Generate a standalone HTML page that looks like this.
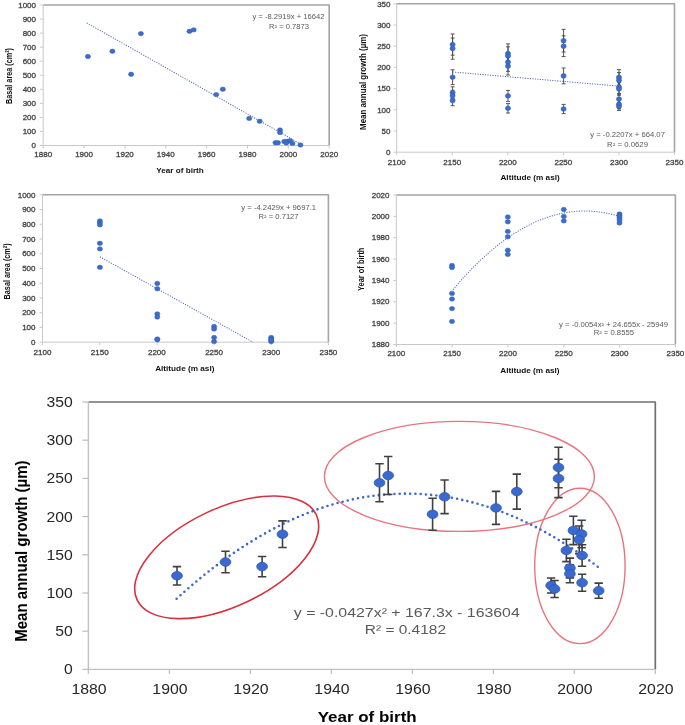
<!DOCTYPE html>
<html><head><meta charset="utf-8"><title>Tree growth charts</title>
<style>
html,body{margin:0;padding:0;background:#fff;}
body{width:685px;height:725px;overflow:hidden;}
svg{display:block;font-family:"Liberation Sans", sans-serif;filter:blur(0.4px);}
</style></head>
<body>
<svg width="685" height="725" viewBox="0 0 685 725">
<rect width="685" height="725" fill="#fff"/>
<path d="M43.20 5.00 H329.20 V145.50" fill="none" stroke="#a4a4a4" stroke-width="1.6" stroke-linejoin="round"/>
<path d="M43.20 5.00 V145.50 H329.20" fill="none" stroke="#c8c8c8" stroke-width="1.0"/>
<line x1="40.20" y1="145.50" x2="43.20" y2="145.50" stroke="#c8c8c8" stroke-width="1.0"/>
<line x1="40.20" y1="131.45" x2="43.20" y2="131.45" stroke="#c8c8c8" stroke-width="1.0"/>
<line x1="40.20" y1="117.40" x2="43.20" y2="117.40" stroke="#c8c8c8" stroke-width="1.0"/>
<line x1="40.20" y1="103.35" x2="43.20" y2="103.35" stroke="#c8c8c8" stroke-width="1.0"/>
<line x1="40.20" y1="89.30" x2="43.20" y2="89.30" stroke="#c8c8c8" stroke-width="1.0"/>
<line x1="40.20" y1="75.25" x2="43.20" y2="75.25" stroke="#c8c8c8" stroke-width="1.0"/>
<line x1="40.20" y1="61.20" x2="43.20" y2="61.20" stroke="#c8c8c8" stroke-width="1.0"/>
<line x1="40.20" y1="47.15" x2="43.20" y2="47.15" stroke="#c8c8c8" stroke-width="1.0"/>
<line x1="40.20" y1="33.10" x2="43.20" y2="33.10" stroke="#c8c8c8" stroke-width="1.0"/>
<line x1="40.20" y1="19.05" x2="43.20" y2="19.05" stroke="#c8c8c8" stroke-width="1.0"/>
<line x1="40.20" y1="5.00" x2="43.20" y2="5.00" stroke="#c8c8c8" stroke-width="1.0"/>
<line x1="43.20" y1="145.50" x2="43.20" y2="148.50" stroke="#c8c8c8" stroke-width="1.0"/>
<line x1="84.06" y1="145.50" x2="84.06" y2="148.50" stroke="#c8c8c8" stroke-width="1.0"/>
<line x1="124.91" y1="145.50" x2="124.91" y2="148.50" stroke="#c8c8c8" stroke-width="1.0"/>
<line x1="165.77" y1="145.50" x2="165.77" y2="148.50" stroke="#c8c8c8" stroke-width="1.0"/>
<line x1="206.63" y1="145.50" x2="206.63" y2="148.50" stroke="#c8c8c8" stroke-width="1.0"/>
<line x1="247.49" y1="145.50" x2="247.49" y2="148.50" stroke="#c8c8c8" stroke-width="1.0"/>
<line x1="288.34" y1="145.50" x2="288.34" y2="148.50" stroke="#c8c8c8" stroke-width="1.0"/>
<line x1="329.20" y1="145.50" x2="329.20" y2="148.50" stroke="#c8c8c8" stroke-width="1.0"/>
<text x="36.00" y="148.20" font-size="8" text-anchor="end" fill="#434343" stroke="#434343" stroke-width="0.3">0</text>
<text x="36.00" y="134.15" font-size="8" text-anchor="end" fill="#434343" stroke="#434343" stroke-width="0.3">100</text>
<text x="36.00" y="120.10" font-size="8" text-anchor="end" fill="#434343" stroke="#434343" stroke-width="0.3">200</text>
<text x="36.00" y="106.05" font-size="8" text-anchor="end" fill="#434343" stroke="#434343" stroke-width="0.3">300</text>
<text x="36.00" y="92.00" font-size="8" text-anchor="end" fill="#434343" stroke="#434343" stroke-width="0.3">400</text>
<text x="36.00" y="77.95" font-size="8" text-anchor="end" fill="#434343" stroke="#434343" stroke-width="0.3">500</text>
<text x="36.00" y="63.90" font-size="8" text-anchor="end" fill="#434343" stroke="#434343" stroke-width="0.3">600</text>
<text x="36.00" y="49.85" font-size="8" text-anchor="end" fill="#434343" stroke="#434343" stroke-width="0.3">700</text>
<text x="36.00" y="35.80" font-size="8" text-anchor="end" fill="#434343" stroke="#434343" stroke-width="0.3">800</text>
<text x="36.00" y="21.75" font-size="8" text-anchor="end" fill="#434343" stroke="#434343" stroke-width="0.3">900</text>
<text x="36.00" y="7.70" font-size="8" text-anchor="end" fill="#434343" stroke="#434343" stroke-width="0.3">1000</text>
<text x="43.20" y="157.30" font-size="8" text-anchor="middle" fill="#434343" stroke="#434343" stroke-width="0.3">1880</text>
<text x="84.06" y="157.30" font-size="8" text-anchor="middle" fill="#434343" stroke="#434343" stroke-width="0.3">1900</text>
<text x="124.91" y="157.30" font-size="8" text-anchor="middle" fill="#434343" stroke="#434343" stroke-width="0.3">1920</text>
<text x="165.77" y="157.30" font-size="8" text-anchor="middle" fill="#434343" stroke="#434343" stroke-width="0.3">1940</text>
<text x="206.63" y="157.30" font-size="8" text-anchor="middle" fill="#434343" stroke="#434343" stroke-width="0.3">1960</text>
<text x="247.49" y="157.30" font-size="8" text-anchor="middle" fill="#434343" stroke="#434343" stroke-width="0.3">1980</text>
<text x="288.34" y="157.30" font-size="8" text-anchor="middle" fill="#434343" stroke="#434343" stroke-width="0.3">2000</text>
<text x="329.20" y="157.30" font-size="8" text-anchor="middle" fill="#434343" stroke="#434343" stroke-width="0.3">2020</text>
<line x1="86.7" y1="22.9" x2="301.0" y2="144.3" stroke="#4d68ad" stroke-width="1.05" stroke-dasharray="1.1 1.4"/>
<ellipse cx="87.90" cy="56.50" rx="2.6" ry="2.2" fill="#3d6dcc" stroke="#2f5cb3" stroke-width="0.5"/>
<ellipse cx="112.40" cy="51.20" rx="2.6" ry="2.2" fill="#3d6dcc" stroke="#2f5cb3" stroke-width="0.5"/>
<ellipse cx="131.10" cy="74.30" rx="2.6" ry="2.2" fill="#3d6dcc" stroke="#2f5cb3" stroke-width="0.5"/>
<ellipse cx="140.90" cy="33.60" rx="2.6" ry="2.2" fill="#3d6dcc" stroke="#2f5cb3" stroke-width="0.5"/>
<ellipse cx="189.50" cy="31.30" rx="2.6" ry="2.2" fill="#3d6dcc" stroke="#2f5cb3" stroke-width="0.5"/>
<ellipse cx="193.70" cy="29.90" rx="2.6" ry="2.2" fill="#3d6dcc" stroke="#2f5cb3" stroke-width="0.5"/>
<ellipse cx="216.20" cy="94.60" rx="2.6" ry="2.2" fill="#3d6dcc" stroke="#2f5cb3" stroke-width="0.5"/>
<ellipse cx="222.80" cy="89.20" rx="2.6" ry="2.2" fill="#3d6dcc" stroke="#2f5cb3" stroke-width="0.5"/>
<ellipse cx="249.20" cy="118.40" rx="2.6" ry="2.2" fill="#3d6dcc" stroke="#2f5cb3" stroke-width="0.5"/>
<ellipse cx="259.70" cy="121.20" rx="2.6" ry="2.2" fill="#3d6dcc" stroke="#2f5cb3" stroke-width="0.5"/>
<ellipse cx="280.00" cy="130.00" rx="2.6" ry="2.2" fill="#3d6dcc" stroke="#2f5cb3" stroke-width="0.5"/>
<ellipse cx="280.00" cy="132.50" rx="2.6" ry="2.2" fill="#3d6dcc" stroke="#2f5cb3" stroke-width="0.5"/>
<ellipse cx="275.50" cy="142.70" rx="2.6" ry="2.2" fill="#3d6dcc" stroke="#2f5cb3" stroke-width="0.5"/>
<ellipse cx="278.00" cy="142.70" rx="2.6" ry="2.2" fill="#3d6dcc" stroke="#2f5cb3" stroke-width="0.5"/>
<ellipse cx="284.30" cy="141.50" rx="2.6" ry="2.2" fill="#3d6dcc" stroke="#2f5cb3" stroke-width="0.5"/>
<ellipse cx="287.60" cy="141.20" rx="2.6" ry="2.2" fill="#3d6dcc" stroke="#2f5cb3" stroke-width="0.5"/>
<ellipse cx="290.20" cy="140.80" rx="2.6" ry="2.2" fill="#3d6dcc" stroke="#2f5cb3" stroke-width="0.5"/>
<ellipse cx="292.40" cy="143.40" rx="2.6" ry="2.2" fill="#3d6dcc" stroke="#2f5cb3" stroke-width="0.5"/>
<ellipse cx="286.20" cy="143.00" rx="2.6" ry="2.2" fill="#3d6dcc" stroke="#2f5cb3" stroke-width="0.5"/>
<ellipse cx="300.40" cy="145.00" rx="2.6" ry="2.2" fill="#3d6dcc" stroke="#2f5cb3" stroke-width="0.5"/>
<text x="288.40" y="19.30" font-size="7" text-anchor="middle" fill="#595959" textLength="72.00" lengthAdjust="spacingAndGlyphs">y = -8.2919x + 16642</text>
<text x="289.00" y="28.50" font-size="7" text-anchor="middle" fill="#595959" textLength="40.00" lengthAdjust="spacingAndGlyphs">R² = 0.7873</text>
<text x="180.00" y="172.70" font-size="7.8" text-anchor="middle" fill="#111" font-weight="bold" textLength="47.50" lengthAdjust="spacingAndGlyphs">Year of birth</text>
<text x="0" y="0" font-size="8" text-anchor="middle" fill="#111" font-weight="bold" textLength="56.00" lengthAdjust="spacingAndGlyphs" transform="translate(12.10 76.00) scale(1.15 1) rotate(-90)">Basal area (cm²)</text>
<path d="M396.70 3.80 H674.50 V152.20" fill="none" stroke="#a4a4a4" stroke-width="1.6" stroke-linejoin="round"/>
<path d="M396.70 3.80 V152.20 H674.50" fill="none" stroke="#c8c8c8" stroke-width="1.0"/>
<line x1="393.70" y1="152.20" x2="396.70" y2="152.20" stroke="#c8c8c8" stroke-width="1.0"/>
<line x1="393.70" y1="131.00" x2="396.70" y2="131.00" stroke="#c8c8c8" stroke-width="1.0"/>
<line x1="393.70" y1="109.80" x2="396.70" y2="109.80" stroke="#c8c8c8" stroke-width="1.0"/>
<line x1="393.70" y1="88.60" x2="396.70" y2="88.60" stroke="#c8c8c8" stroke-width="1.0"/>
<line x1="393.70" y1="67.40" x2="396.70" y2="67.40" stroke="#c8c8c8" stroke-width="1.0"/>
<line x1="393.70" y1="46.20" x2="396.70" y2="46.20" stroke="#c8c8c8" stroke-width="1.0"/>
<line x1="393.70" y1="25.00" x2="396.70" y2="25.00" stroke="#c8c8c8" stroke-width="1.0"/>
<line x1="393.70" y1="3.80" x2="396.70" y2="3.80" stroke="#c8c8c8" stroke-width="1.0"/>
<line x1="396.70" y1="152.20" x2="396.70" y2="155.20" stroke="#c8c8c8" stroke-width="1.0"/>
<line x1="452.26" y1="152.20" x2="452.26" y2="155.20" stroke="#c8c8c8" stroke-width="1.0"/>
<line x1="507.82" y1="152.20" x2="507.82" y2="155.20" stroke="#c8c8c8" stroke-width="1.0"/>
<line x1="563.38" y1="152.20" x2="563.38" y2="155.20" stroke="#c8c8c8" stroke-width="1.0"/>
<line x1="618.94" y1="152.20" x2="618.94" y2="155.20" stroke="#c8c8c8" stroke-width="1.0"/>
<line x1="674.50" y1="152.20" x2="674.50" y2="155.20" stroke="#c8c8c8" stroke-width="1.0"/>
<text x="390.50" y="154.90" font-size="8" text-anchor="end" fill="#434343" stroke="#434343" stroke-width="0.3">0</text>
<text x="390.50" y="133.70" font-size="8" text-anchor="end" fill="#434343" stroke="#434343" stroke-width="0.3">50</text>
<text x="390.50" y="112.50" font-size="8" text-anchor="end" fill="#434343" stroke="#434343" stroke-width="0.3">100</text>
<text x="390.50" y="91.30" font-size="8" text-anchor="end" fill="#434343" stroke="#434343" stroke-width="0.3">150</text>
<text x="390.50" y="70.10" font-size="8" text-anchor="end" fill="#434343" stroke="#434343" stroke-width="0.3">200</text>
<text x="390.50" y="48.90" font-size="8" text-anchor="end" fill="#434343" stroke="#434343" stroke-width="0.3">250</text>
<text x="390.50" y="27.70" font-size="8" text-anchor="end" fill="#434343" stroke="#434343" stroke-width="0.3">300</text>
<text x="390.50" y="6.50" font-size="8" text-anchor="end" fill="#434343" stroke="#434343" stroke-width="0.3">350</text>
<text x="396.70" y="164.60" font-size="8" text-anchor="middle" fill="#434343" stroke="#434343" stroke-width="0.3">2100</text>
<text x="452.26" y="164.60" font-size="8" text-anchor="middle" fill="#434343" stroke="#434343" stroke-width="0.3">2150</text>
<text x="507.82" y="164.60" font-size="8" text-anchor="middle" fill="#434343" stroke="#434343" stroke-width="0.3">2200</text>
<text x="563.38" y="164.60" font-size="8" text-anchor="middle" fill="#434343" stroke="#434343" stroke-width="0.3">2250</text>
<text x="618.94" y="164.60" font-size="8" text-anchor="middle" fill="#434343" stroke="#434343" stroke-width="0.3">2300</text>
<text x="674.50" y="164.60" font-size="8" text-anchor="middle" fill="#434343" stroke="#434343" stroke-width="0.3">2350</text>
<line x1="452.6" y1="72.0" x2="619.0" y2="86.1" stroke="#4d68ad" stroke-width="1.05" stroke-dasharray="1.1 1.4"/>
<path d="M452.60 34.00 V55.20 M450.60 34.00 H454.60 M450.60 55.20 H454.60" stroke="#444" stroke-width="0.9" fill="none"/>
<path d="M452.60 38.00 V59.20 M450.60 38.00 H454.60 M450.60 59.20 H454.60" stroke="#444" stroke-width="0.9" fill="none"/>
<path d="M452.60 69.80 V84.60 M450.60 69.80 H454.60 M450.60 84.60 H454.60" stroke="#444" stroke-width="0.9" fill="none"/>
<path d="M452.60 86.80 V98.60 M450.60 86.80 H454.60 M450.60 98.60 H454.60" stroke="#444" stroke-width="0.9" fill="none"/>
<path d="M452.60 90.30 V101.30 M450.60 90.30 H454.60 M450.60 101.30 H454.60" stroke="#444" stroke-width="0.9" fill="none"/>
<path d="M452.60 95.50 V105.70 M450.60 95.50 H454.60 M450.60 105.70 H454.60" stroke="#444" stroke-width="0.9" fill="none"/>
<path d="M508.00 43.90 V63.30 M506.00 43.90 H510.00 M506.00 63.30 H510.00" stroke="#444" stroke-width="0.9" fill="none"/>
<path d="M508.00 46.80 V65.40 M506.00 46.80 H510.00 M506.00 65.40 H510.00" stroke="#444" stroke-width="0.9" fill="none"/>
<path d="M508.00 52.90 V71.30 M506.00 52.90 H510.00 M506.00 71.30 H510.00" stroke="#444" stroke-width="0.9" fill="none"/>
<path d="M508.00 57.20 V75.00 M506.00 57.20 H510.00 M506.00 75.00 H510.00" stroke="#444" stroke-width="0.9" fill="none"/>
<path d="M508.00 90.40 V101.40 M506.00 90.40 H510.00 M506.00 101.40 H510.00" stroke="#444" stroke-width="0.9" fill="none"/>
<path d="M508.00 103.60 V113.00 M506.00 103.60 H510.00 M506.00 113.00 H510.00" stroke="#444" stroke-width="0.9" fill="none"/>
<path d="M563.60 29.40 V52.00 M561.60 29.40 H565.60 M561.60 52.00 H565.60" stroke="#444" stroke-width="0.9" fill="none"/>
<path d="M563.60 35.80 V56.60 M561.60 35.80 H565.60 M561.60 56.60 H565.60" stroke="#444" stroke-width="0.9" fill="none"/>
<path d="M563.60 68.00 V83.80 M561.60 68.00 H565.60 M561.60 83.80 H565.60" stroke="#444" stroke-width="0.9" fill="none"/>
<path d="M563.60 104.40 V113.60 M561.60 104.40 H565.60 M561.60 113.60 H565.60" stroke="#444" stroke-width="0.9" fill="none"/>
<path d="M619.00 69.70 V85.10 M617.00 69.70 H621.00 M617.00 85.10 H621.00" stroke="#444" stroke-width="0.9" fill="none"/>
<path d="M619.00 72.60 V88.00 M617.00 72.60 H621.00 M617.00 88.00 H621.00" stroke="#444" stroke-width="0.9" fill="none"/>
<path d="M619.00 80.60 V93.60 M617.00 80.60 H621.00 M617.00 93.60 H621.00" stroke="#444" stroke-width="0.9" fill="none"/>
<path d="M619.00 82.70 V95.30 M617.00 82.70 H621.00 M617.00 95.30 H621.00" stroke="#444" stroke-width="0.9" fill="none"/>
<path d="M619.00 94.10 V104.10 M617.00 94.10 H621.00 M617.00 104.10 H621.00" stroke="#444" stroke-width="0.9" fill="none"/>
<path d="M619.00 99.90 V108.90 M617.00 99.90 H621.00 M617.00 108.90 H621.00" stroke="#444" stroke-width="0.9" fill="none"/>
<path d="M619.00 102.40 V110.40 M617.00 102.40 H621.00 M617.00 110.40 H621.00" stroke="#444" stroke-width="0.9" fill="none"/>
<ellipse cx="452.60" cy="44.60" rx="2.6" ry="2.3" fill="#3d6dcc" stroke="#2f5cb3" stroke-width="0.5"/>
<ellipse cx="452.60" cy="48.60" rx="2.6" ry="2.3" fill="#3d6dcc" stroke="#2f5cb3" stroke-width="0.5"/>
<ellipse cx="452.60" cy="77.20" rx="2.6" ry="2.3" fill="#3d6dcc" stroke="#2f5cb3" stroke-width="0.5"/>
<ellipse cx="452.60" cy="92.70" rx="2.6" ry="2.3" fill="#3d6dcc" stroke="#2f5cb3" stroke-width="0.5"/>
<ellipse cx="452.60" cy="95.80" rx="2.6" ry="2.3" fill="#3d6dcc" stroke="#2f5cb3" stroke-width="0.5"/>
<ellipse cx="452.60" cy="100.60" rx="2.6" ry="2.3" fill="#3d6dcc" stroke="#2f5cb3" stroke-width="0.5"/>
<ellipse cx="508.00" cy="53.60" rx="2.6" ry="2.3" fill="#3d6dcc" stroke="#2f5cb3" stroke-width="0.5"/>
<ellipse cx="508.00" cy="56.10" rx="2.6" ry="2.3" fill="#3d6dcc" stroke="#2f5cb3" stroke-width="0.5"/>
<ellipse cx="508.00" cy="62.10" rx="2.6" ry="2.3" fill="#3d6dcc" stroke="#2f5cb3" stroke-width="0.5"/>
<ellipse cx="508.00" cy="66.10" rx="2.6" ry="2.3" fill="#3d6dcc" stroke="#2f5cb3" stroke-width="0.5"/>
<ellipse cx="508.00" cy="95.90" rx="2.6" ry="2.3" fill="#3d6dcc" stroke="#2f5cb3" stroke-width="0.5"/>
<ellipse cx="508.00" cy="108.30" rx="2.6" ry="2.3" fill="#3d6dcc" stroke="#2f5cb3" stroke-width="0.5"/>
<ellipse cx="563.60" cy="40.70" rx="2.6" ry="2.3" fill="#3d6dcc" stroke="#2f5cb3" stroke-width="0.5"/>
<ellipse cx="563.60" cy="46.20" rx="2.6" ry="2.3" fill="#3d6dcc" stroke="#2f5cb3" stroke-width="0.5"/>
<ellipse cx="563.60" cy="75.90" rx="2.6" ry="2.3" fill="#3d6dcc" stroke="#2f5cb3" stroke-width="0.5"/>
<ellipse cx="563.60" cy="109.00" rx="2.6" ry="2.3" fill="#3d6dcc" stroke="#2f5cb3" stroke-width="0.5"/>
<ellipse cx="619.00" cy="77.40" rx="2.6" ry="2.3" fill="#3d6dcc" stroke="#2f5cb3" stroke-width="0.5"/>
<ellipse cx="619.00" cy="80.30" rx="2.6" ry="2.3" fill="#3d6dcc" stroke="#2f5cb3" stroke-width="0.5"/>
<ellipse cx="619.00" cy="87.10" rx="2.6" ry="2.3" fill="#3d6dcc" stroke="#2f5cb3" stroke-width="0.5"/>
<ellipse cx="619.00" cy="89.00" rx="2.6" ry="2.3" fill="#3d6dcc" stroke="#2f5cb3" stroke-width="0.5"/>
<ellipse cx="619.00" cy="99.10" rx="2.6" ry="2.3" fill="#3d6dcc" stroke="#2f5cb3" stroke-width="0.5"/>
<ellipse cx="619.00" cy="104.40" rx="2.6" ry="2.3" fill="#3d6dcc" stroke="#2f5cb3" stroke-width="0.5"/>
<ellipse cx="619.00" cy="106.40" rx="2.6" ry="2.3" fill="#3d6dcc" stroke="#2f5cb3" stroke-width="0.5"/>
<text x="627.60" y="137.40" font-size="7" text-anchor="middle" fill="#595959" textLength="74.60" lengthAdjust="spacingAndGlyphs">y = -0.2207x + 664.07</text>
<text x="627.50" y="146.50" font-size="7" text-anchor="middle" fill="#595959" textLength="41.00" lengthAdjust="spacingAndGlyphs">R² = 0.0629</text>
<text x="530.10" y="180.40" font-size="8" text-anchor="middle" fill="#111" font-weight="bold" textLength="59.30" lengthAdjust="spacingAndGlyphs">Altitude (m asl)</text>
<text x="0" y="0" font-size="8" text-anchor="middle" fill="#111" font-weight="bold" textLength="96.00" lengthAdjust="spacingAndGlyphs" transform="translate(366.30 82.00) scale(1.15 1) rotate(-90)">Mean annual growth (µm)</text>
<path d="M42.50 194.80 H328.40 V342.20" fill="none" stroke="#a4a4a4" stroke-width="1.6" stroke-linejoin="round"/>
<path d="M42.50 194.80 V342.20 H328.40" fill="none" stroke="#c8c8c8" stroke-width="1.0"/>
<line x1="39.50" y1="342.20" x2="42.50" y2="342.20" stroke="#c8c8c8" stroke-width="1.0"/>
<line x1="39.50" y1="327.46" x2="42.50" y2="327.46" stroke="#c8c8c8" stroke-width="1.0"/>
<line x1="39.50" y1="312.72" x2="42.50" y2="312.72" stroke="#c8c8c8" stroke-width="1.0"/>
<line x1="39.50" y1="297.98" x2="42.50" y2="297.98" stroke="#c8c8c8" stroke-width="1.0"/>
<line x1="39.50" y1="283.24" x2="42.50" y2="283.24" stroke="#c8c8c8" stroke-width="1.0"/>
<line x1="39.50" y1="268.50" x2="42.50" y2="268.50" stroke="#c8c8c8" stroke-width="1.0"/>
<line x1="39.50" y1="253.76" x2="42.50" y2="253.76" stroke="#c8c8c8" stroke-width="1.0"/>
<line x1="39.50" y1="239.02" x2="42.50" y2="239.02" stroke="#c8c8c8" stroke-width="1.0"/>
<line x1="39.50" y1="224.28" x2="42.50" y2="224.28" stroke="#c8c8c8" stroke-width="1.0"/>
<line x1="39.50" y1="209.54" x2="42.50" y2="209.54" stroke="#c8c8c8" stroke-width="1.0"/>
<line x1="39.50" y1="194.80" x2="42.50" y2="194.80" stroke="#c8c8c8" stroke-width="1.0"/>
<line x1="42.50" y1="342.20" x2="42.50" y2="345.20" stroke="#c8c8c8" stroke-width="1.0"/>
<line x1="99.68" y1="342.20" x2="99.68" y2="345.20" stroke="#c8c8c8" stroke-width="1.0"/>
<line x1="156.86" y1="342.20" x2="156.86" y2="345.20" stroke="#c8c8c8" stroke-width="1.0"/>
<line x1="214.04" y1="342.20" x2="214.04" y2="345.20" stroke="#c8c8c8" stroke-width="1.0"/>
<line x1="271.22" y1="342.20" x2="271.22" y2="345.20" stroke="#c8c8c8" stroke-width="1.0"/>
<line x1="328.40" y1="342.20" x2="328.40" y2="345.20" stroke="#c8c8c8" stroke-width="1.0"/>
<text x="35.50" y="344.90" font-size="8" text-anchor="end" fill="#434343" stroke="#434343" stroke-width="0.3">0</text>
<text x="35.50" y="330.16" font-size="8" text-anchor="end" fill="#434343" stroke="#434343" stroke-width="0.3">100</text>
<text x="35.50" y="315.42" font-size="8" text-anchor="end" fill="#434343" stroke="#434343" stroke-width="0.3">200</text>
<text x="35.50" y="300.68" font-size="8" text-anchor="end" fill="#434343" stroke="#434343" stroke-width="0.3">300</text>
<text x="35.50" y="285.94" font-size="8" text-anchor="end" fill="#434343" stroke="#434343" stroke-width="0.3">400</text>
<text x="35.50" y="271.20" font-size="8" text-anchor="end" fill="#434343" stroke="#434343" stroke-width="0.3">500</text>
<text x="35.50" y="256.46" font-size="8" text-anchor="end" fill="#434343" stroke="#434343" stroke-width="0.3">600</text>
<text x="35.50" y="241.72" font-size="8" text-anchor="end" fill="#434343" stroke="#434343" stroke-width="0.3">700</text>
<text x="35.50" y="226.98" font-size="8" text-anchor="end" fill="#434343" stroke="#434343" stroke-width="0.3">800</text>
<text x="35.50" y="212.24" font-size="8" text-anchor="end" fill="#434343" stroke="#434343" stroke-width="0.3">900</text>
<text x="35.50" y="197.50" font-size="8" text-anchor="end" fill="#434343" stroke="#434343" stroke-width="0.3">1000</text>
<text x="42.50" y="354.80" font-size="8" text-anchor="middle" fill="#434343" stroke="#434343" stroke-width="0.3">2100</text>
<text x="99.68" y="354.80" font-size="8" text-anchor="middle" fill="#434343" stroke="#434343" stroke-width="0.3">2150</text>
<text x="156.86" y="354.80" font-size="8" text-anchor="middle" fill="#434343" stroke="#434343" stroke-width="0.3">2200</text>
<text x="214.04" y="354.80" font-size="8" text-anchor="middle" fill="#434343" stroke="#434343" stroke-width="0.3">2250</text>
<text x="271.22" y="354.80" font-size="8" text-anchor="middle" fill="#434343" stroke="#434343" stroke-width="0.3">2300</text>
<text x="328.40" y="354.80" font-size="8" text-anchor="middle" fill="#434343" stroke="#434343" stroke-width="0.3">2350</text>
<line x1="99.9" y1="256.8" x2="253.0" y2="342.2" stroke="#4d68ad" stroke-width="1.05" stroke-dasharray="1.1 1.4"/>
<ellipse cx="99.90" cy="220.90" rx="2.6" ry="2.2" fill="#3d6dcc" stroke="#2f5cb3" stroke-width="0.5"/>
<ellipse cx="99.90" cy="222.70" rx="2.6" ry="2.2" fill="#3d6dcc" stroke="#2f5cb3" stroke-width="0.5"/>
<ellipse cx="99.90" cy="224.90" rx="2.6" ry="2.2" fill="#3d6dcc" stroke="#2f5cb3" stroke-width="0.5"/>
<ellipse cx="99.90" cy="243.30" rx="2.6" ry="2.2" fill="#3d6dcc" stroke="#2f5cb3" stroke-width="0.5"/>
<ellipse cx="99.90" cy="248.90" rx="2.6" ry="2.2" fill="#3d6dcc" stroke="#2f5cb3" stroke-width="0.5"/>
<ellipse cx="99.90" cy="267.30" rx="2.6" ry="2.2" fill="#3d6dcc" stroke="#2f5cb3" stroke-width="0.5"/>
<ellipse cx="157.30" cy="283.50" rx="2.6" ry="2.2" fill="#3d6dcc" stroke="#2f5cb3" stroke-width="0.5"/>
<ellipse cx="157.30" cy="288.80" rx="2.6" ry="2.2" fill="#3d6dcc" stroke="#2f5cb3" stroke-width="0.5"/>
<ellipse cx="157.30" cy="313.90" rx="2.6" ry="2.2" fill="#3d6dcc" stroke="#2f5cb3" stroke-width="0.5"/>
<ellipse cx="157.30" cy="317.10" rx="2.6" ry="2.2" fill="#3d6dcc" stroke="#2f5cb3" stroke-width="0.5"/>
<ellipse cx="157.30" cy="339.70" rx="2.6" ry="2.2" fill="#3d6dcc" stroke="#2f5cb3" stroke-width="0.5"/>
<ellipse cx="157.30" cy="339.00" rx="2.6" ry="2.2" fill="#3d6dcc" stroke="#2f5cb3" stroke-width="0.5"/>
<ellipse cx="214.10" cy="326.50" rx="2.6" ry="2.2" fill="#3d6dcc" stroke="#2f5cb3" stroke-width="0.5"/>
<ellipse cx="214.10" cy="329.00" rx="2.6" ry="2.2" fill="#3d6dcc" stroke="#2f5cb3" stroke-width="0.5"/>
<ellipse cx="214.10" cy="337.50" rx="2.6" ry="2.2" fill="#3d6dcc" stroke="#2f5cb3" stroke-width="0.5"/>
<ellipse cx="214.10" cy="341.60" rx="2.6" ry="2.2" fill="#3d6dcc" stroke="#2f5cb3" stroke-width="0.5"/>
<ellipse cx="271.20" cy="337.50" rx="2.6" ry="2.2" fill="#3d6dcc" stroke="#2f5cb3" stroke-width="0.5"/>
<ellipse cx="271.20" cy="339.00" rx="2.6" ry="2.2" fill="#3d6dcc" stroke="#2f5cb3" stroke-width="0.5"/>
<ellipse cx="271.20" cy="341.60" rx="2.6" ry="2.2" fill="#3d6dcc" stroke="#2f5cb3" stroke-width="0.5"/>
<ellipse cx="271.20" cy="340.50" rx="2.6" ry="2.2" fill="#3d6dcc" stroke="#2f5cb3" stroke-width="0.5"/>
<text x="278.70" y="210.30" font-size="7" text-anchor="middle" fill="#595959" textLength="74.80" lengthAdjust="spacingAndGlyphs">y = -4.2429x + 9697.1</text>
<text x="278.60" y="219.40" font-size="7" text-anchor="middle" fill="#595959" textLength="40.00" lengthAdjust="spacingAndGlyphs">R² = 0.7127</text>
<text x="184.80" y="370.80" font-size="8" text-anchor="middle" fill="#111" font-weight="bold" textLength="59.30" lengthAdjust="spacingAndGlyphs">Altitude (m asl)</text>
<text x="0" y="0" font-size="8" text-anchor="middle" fill="#111" font-weight="bold" textLength="56.00" lengthAdjust="spacingAndGlyphs" transform="translate(10.30 271.40) scale(1.15 1) rotate(-90)">Basal area (cm²)</text>
<path d="M396.30 195.00 H675.40 V344.50" fill="none" stroke="#a4a4a4" stroke-width="1.6" stroke-linejoin="round"/>
<path d="M396.30 195.00 V344.50 H675.40" fill="none" stroke="#c8c8c8" stroke-width="1.0"/>
<line x1="393.30" y1="344.50" x2="396.30" y2="344.50" stroke="#c8c8c8" stroke-width="1.0"/>
<line x1="393.30" y1="323.14" x2="396.30" y2="323.14" stroke="#c8c8c8" stroke-width="1.0"/>
<line x1="393.30" y1="301.79" x2="396.30" y2="301.79" stroke="#c8c8c8" stroke-width="1.0"/>
<line x1="393.30" y1="280.43" x2="396.30" y2="280.43" stroke="#c8c8c8" stroke-width="1.0"/>
<line x1="393.30" y1="259.07" x2="396.30" y2="259.07" stroke="#c8c8c8" stroke-width="1.0"/>
<line x1="393.30" y1="237.71" x2="396.30" y2="237.71" stroke="#c8c8c8" stroke-width="1.0"/>
<line x1="393.30" y1="216.36" x2="396.30" y2="216.36" stroke="#c8c8c8" stroke-width="1.0"/>
<line x1="393.30" y1="195.00" x2="396.30" y2="195.00" stroke="#c8c8c8" stroke-width="1.0"/>
<line x1="396.30" y1="344.50" x2="396.30" y2="347.50" stroke="#c8c8c8" stroke-width="1.0"/>
<line x1="452.12" y1="344.50" x2="452.12" y2="347.50" stroke="#c8c8c8" stroke-width="1.0"/>
<line x1="507.94" y1="344.50" x2="507.94" y2="347.50" stroke="#c8c8c8" stroke-width="1.0"/>
<line x1="563.76" y1="344.50" x2="563.76" y2="347.50" stroke="#c8c8c8" stroke-width="1.0"/>
<line x1="619.58" y1="344.50" x2="619.58" y2="347.50" stroke="#c8c8c8" stroke-width="1.0"/>
<line x1="675.40" y1="344.50" x2="675.40" y2="347.50" stroke="#c8c8c8" stroke-width="1.0"/>
<text x="389.50" y="347.20" font-size="8" text-anchor="end" fill="#434343" stroke="#434343" stroke-width="0.3">1880</text>
<text x="389.50" y="325.84" font-size="8" text-anchor="end" fill="#434343" stroke="#434343" stroke-width="0.3">1900</text>
<text x="389.50" y="304.49" font-size="8" text-anchor="end" fill="#434343" stroke="#434343" stroke-width="0.3">1920</text>
<text x="389.50" y="283.13" font-size="8" text-anchor="end" fill="#434343" stroke="#434343" stroke-width="0.3">1940</text>
<text x="389.50" y="261.77" font-size="8" text-anchor="end" fill="#434343" stroke="#434343" stroke-width="0.3">1960</text>
<text x="389.50" y="240.41" font-size="8" text-anchor="end" fill="#434343" stroke="#434343" stroke-width="0.3">1980</text>
<text x="389.50" y="219.06" font-size="8" text-anchor="end" fill="#434343" stroke="#434343" stroke-width="0.3">2000</text>
<text x="389.50" y="197.70" font-size="8" text-anchor="end" fill="#434343" stroke="#434343" stroke-width="0.3">2020</text>
<text x="396.30" y="356.20" font-size="8" text-anchor="middle" fill="#434343" stroke="#434343" stroke-width="0.3">2100</text>
<text x="452.12" y="356.20" font-size="8" text-anchor="middle" fill="#434343" stroke="#434343" stroke-width="0.3">2150</text>
<text x="507.94" y="356.20" font-size="8" text-anchor="middle" fill="#434343" stroke="#434343" stroke-width="0.3">2200</text>
<text x="563.76" y="356.20" font-size="8" text-anchor="middle" fill="#434343" stroke="#434343" stroke-width="0.3">2250</text>
<text x="619.58" y="356.20" font-size="8" text-anchor="middle" fill="#434343" stroke="#434343" stroke-width="0.3">2300</text>
<text x="675.40" y="356.20" font-size="8" text-anchor="middle" fill="#434343" stroke="#434343" stroke-width="0.3">2350</text>
<path d="M453.00 289.69 L455.00 287.32 L457.00 284.99 L459.00 282.69 L461.00 280.43 L463.00 278.20 L465.00 276.01 L467.00 273.86 L469.00 271.75 L471.00 269.67 L473.00 267.62 L475.00 265.61 L477.00 263.64 L479.00 261.71 L481.00 259.81 L483.00 257.95 L485.00 256.12 L487.00 254.33 L489.00 252.57 L491.00 250.86 L493.00 249.18 L495.00 247.53 L497.00 245.92 L499.00 244.35 L501.00 242.81 L503.00 241.31 L505.00 239.85 L507.00 238.42 L509.00 237.03 L511.00 235.67 L513.00 234.35 L515.00 233.07 L517.00 231.82 L519.00 230.61 L521.00 229.44 L523.00 228.30 L525.00 227.20 L527.00 226.13 L529.00 225.10 L531.00 224.11 L533.00 223.16 L535.00 222.23 L537.00 221.35 L539.00 220.50 L541.00 219.69 L543.00 218.91 L545.00 218.18 L547.00 217.47 L549.00 216.81 L551.00 216.18 L553.00 215.58 L555.00 215.02 L557.00 214.50 L559.00 214.02 L561.00 213.57 L563.00 213.15 L565.00 212.78 L567.00 212.44 L569.00 212.13 L571.00 211.86 L573.00 211.63 L575.00 211.44 L577.00 211.28 L579.00 211.15 L581.00 211.07 L583.00 211.01 L585.00 211.00 L587.00 211.02 L589.00 211.08 L591.00 211.17 L593.00 211.30 L595.00 211.47 L597.00 211.67 L599.00 211.91 L601.00 212.19 L603.00 212.50 L605.00 212.85 L607.00 213.23 L609.00 213.65 L611.00 214.11 L613.00 214.60 L615.00 215.13 L617.00 215.70 L619.00 216.30" fill="none" stroke="#4d68ad" stroke-width="1.05" stroke-dasharray="1.1 1.4"/>
<ellipse cx="452.00" cy="265.50" rx="2.6" ry="2.2" fill="#3d6dcc" stroke="#2f5cb3" stroke-width="0.5"/>
<ellipse cx="452.00" cy="267.60" rx="2.6" ry="2.2" fill="#3d6dcc" stroke="#2f5cb3" stroke-width="0.5"/>
<ellipse cx="452.00" cy="293.40" rx="2.6" ry="2.2" fill="#3d6dcc" stroke="#2f5cb3" stroke-width="0.5"/>
<ellipse cx="452.00" cy="299.00" rx="2.6" ry="2.2" fill="#3d6dcc" stroke="#2f5cb3" stroke-width="0.5"/>
<ellipse cx="452.00" cy="308.60" rx="2.6" ry="2.2" fill="#3d6dcc" stroke="#2f5cb3" stroke-width="0.5"/>
<ellipse cx="452.00" cy="321.40" rx="2.6" ry="2.2" fill="#3d6dcc" stroke="#2f5cb3" stroke-width="0.5"/>
<ellipse cx="507.80" cy="217.00" rx="2.6" ry="2.2" fill="#3d6dcc" stroke="#2f5cb3" stroke-width="0.5"/>
<ellipse cx="507.80" cy="221.80" rx="2.6" ry="2.2" fill="#3d6dcc" stroke="#2f5cb3" stroke-width="0.5"/>
<ellipse cx="507.80" cy="231.40" rx="2.6" ry="2.2" fill="#3d6dcc" stroke="#2f5cb3" stroke-width="0.5"/>
<ellipse cx="507.80" cy="236.80" rx="2.6" ry="2.2" fill="#3d6dcc" stroke="#2f5cb3" stroke-width="0.5"/>
<ellipse cx="507.80" cy="250.20" rx="2.6" ry="2.2" fill="#3d6dcc" stroke="#2f5cb3" stroke-width="0.5"/>
<ellipse cx="507.80" cy="254.40" rx="2.6" ry="2.2" fill="#3d6dcc" stroke="#2f5cb3" stroke-width="0.5"/>
<ellipse cx="563.80" cy="209.50" rx="2.6" ry="2.2" fill="#3d6dcc" stroke="#2f5cb3" stroke-width="0.5"/>
<ellipse cx="563.80" cy="216.40" rx="2.6" ry="2.2" fill="#3d6dcc" stroke="#2f5cb3" stroke-width="0.5"/>
<ellipse cx="563.80" cy="220.90" rx="2.6" ry="2.2" fill="#3d6dcc" stroke="#2f5cb3" stroke-width="0.5"/>
<ellipse cx="619.50" cy="214.00" rx="2.6" ry="2.2" fill="#3d6dcc" stroke="#2f5cb3" stroke-width="0.5"/>
<ellipse cx="619.50" cy="215.80" rx="2.6" ry="2.2" fill="#3d6dcc" stroke="#2f5cb3" stroke-width="0.5"/>
<ellipse cx="619.50" cy="217.90" rx="2.6" ry="2.2" fill="#3d6dcc" stroke="#2f5cb3" stroke-width="0.5"/>
<ellipse cx="619.50" cy="220.00" rx="2.6" ry="2.2" fill="#3d6dcc" stroke="#2f5cb3" stroke-width="0.5"/>
<ellipse cx="619.50" cy="223.00" rx="2.6" ry="2.2" fill="#3d6dcc" stroke="#2f5cb3" stroke-width="0.5"/>
<text x="613.60" y="326.60" font-size="7" text-anchor="middle" fill="#595959" textLength="109.00" lengthAdjust="spacingAndGlyphs">y = -0.0054x² + 24.655x - 25949</text>
<text x="613.80" y="335.30" font-size="7" text-anchor="middle" fill="#595959" textLength="40.30" lengthAdjust="spacingAndGlyphs">R² = 0.8555</text>
<text x="529.90" y="372.80" font-size="8" text-anchor="middle" fill="#111" font-weight="bold" textLength="59.30" lengthAdjust="spacingAndGlyphs">Altitude (m asl)</text>
<text x="0" y="0" font-size="8" text-anchor="middle" fill="#111" font-weight="bold" textLength="43.40" lengthAdjust="spacingAndGlyphs" transform="translate(364.00 269.30) scale(1.15 1) rotate(-90)">Year of birth</text>
<path d="M88.40 402.00 H655.30 V669.40" fill="none" stroke="#707070" stroke-width="1.7" stroke-linejoin="round"/>
<path d="M88.40 402.00 V669.40 H655.30" fill="none" stroke="#c0c0c0" stroke-width="1.4"/>
<line x1="82.40" y1="669.40" x2="88.40" y2="669.40" stroke="#c0c0c0" stroke-width="1.3"/>
<line x1="82.40" y1="631.20" x2="88.40" y2="631.20" stroke="#c0c0c0" stroke-width="1.3"/>
<line x1="82.40" y1="593.00" x2="88.40" y2="593.00" stroke="#c0c0c0" stroke-width="1.3"/>
<line x1="82.40" y1="554.80" x2="88.40" y2="554.80" stroke="#c0c0c0" stroke-width="1.3"/>
<line x1="82.40" y1="516.60" x2="88.40" y2="516.60" stroke="#c0c0c0" stroke-width="1.3"/>
<line x1="82.40" y1="478.40" x2="88.40" y2="478.40" stroke="#c0c0c0" stroke-width="1.3"/>
<line x1="82.40" y1="440.20" x2="88.40" y2="440.20" stroke="#c0c0c0" stroke-width="1.3"/>
<line x1="82.40" y1="402.00" x2="88.40" y2="402.00" stroke="#c0c0c0" stroke-width="1.3"/>
<line x1="88.40" y1="669.40" x2="88.40" y2="673.90" stroke="#c0c0c0" stroke-width="1.3"/>
<line x1="169.39" y1="669.40" x2="169.39" y2="673.90" stroke="#c0c0c0" stroke-width="1.3"/>
<line x1="250.37" y1="669.40" x2="250.37" y2="673.90" stroke="#c0c0c0" stroke-width="1.3"/>
<line x1="331.36" y1="669.40" x2="331.36" y2="673.90" stroke="#c0c0c0" stroke-width="1.3"/>
<line x1="412.34" y1="669.40" x2="412.34" y2="673.90" stroke="#c0c0c0" stroke-width="1.3"/>
<line x1="493.33" y1="669.40" x2="493.33" y2="673.90" stroke="#c0c0c0" stroke-width="1.3"/>
<line x1="574.31" y1="669.40" x2="574.31" y2="673.90" stroke="#c0c0c0" stroke-width="1.3"/>
<line x1="655.30" y1="669.40" x2="655.30" y2="673.90" stroke="#c0c0c0" stroke-width="1.3"/>
<text x="72.80" y="674.30" font-size="14" text-anchor="end" fill="#262626" textLength="8.75" lengthAdjust="spacingAndGlyphs">0</text>
<text x="72.80" y="636.10" font-size="14" text-anchor="end" fill="#262626" textLength="17.50" lengthAdjust="spacingAndGlyphs">50</text>
<text x="72.80" y="597.90" font-size="14" text-anchor="end" fill="#262626" textLength="26.25" lengthAdjust="spacingAndGlyphs">100</text>
<text x="72.80" y="559.70" font-size="14" text-anchor="end" fill="#262626" textLength="26.25" lengthAdjust="spacingAndGlyphs">150</text>
<text x="72.80" y="521.50" font-size="14" text-anchor="end" fill="#262626" textLength="26.25" lengthAdjust="spacingAndGlyphs">200</text>
<text x="72.80" y="483.30" font-size="14" text-anchor="end" fill="#262626" textLength="26.25" lengthAdjust="spacingAndGlyphs">250</text>
<text x="72.80" y="445.10" font-size="14" text-anchor="end" fill="#262626" textLength="26.25" lengthAdjust="spacingAndGlyphs">300</text>
<text x="72.80" y="406.90" font-size="14" text-anchor="end" fill="#262626" textLength="26.25" lengthAdjust="spacingAndGlyphs">350</text>
<text x="89.00" y="694.30" font-size="14" text-anchor="middle" fill="#262626" textLength="35.20" lengthAdjust="spacingAndGlyphs">1880</text>
<text x="169.99" y="694.30" font-size="14" text-anchor="middle" fill="#262626" textLength="35.20" lengthAdjust="spacingAndGlyphs">1900</text>
<text x="250.97" y="694.30" font-size="14" text-anchor="middle" fill="#262626" textLength="35.20" lengthAdjust="spacingAndGlyphs">1920</text>
<text x="331.96" y="694.30" font-size="14" text-anchor="middle" fill="#262626" textLength="35.20" lengthAdjust="spacingAndGlyphs">1940</text>
<text x="412.94" y="694.30" font-size="14" text-anchor="middle" fill="#262626" textLength="35.20" lengthAdjust="spacingAndGlyphs">1960</text>
<text x="493.93" y="694.30" font-size="14" text-anchor="middle" fill="#262626" textLength="35.20" lengthAdjust="spacingAndGlyphs">1980</text>
<text x="574.91" y="694.30" font-size="14" text-anchor="middle" fill="#262626" textLength="35.20" lengthAdjust="spacingAndGlyphs">2000</text>
<text x="655.90" y="694.30" font-size="14" text-anchor="middle" fill="#262626" textLength="35.20" lengthAdjust="spacingAndGlyphs">2020</text>
<ellipse cx="226.7" cy="557.3" rx="99.2" ry="48.9" transform="rotate(-25.4 226.7 557.3)" fill="none" stroke="#d8303f" stroke-width="1.6"/>
<ellipse cx="459.4" cy="476.4" rx="135" ry="55" fill="none" stroke="#e97480" stroke-width="1.4"/>
<ellipse cx="579.9" cy="565.9" rx="45.2" ry="77.7" fill="none" stroke="#e97480" stroke-width="1.4"/>
<path d="M176.60 598.77 L178.60 596.95 L180.60 595.14 L182.60 593.35 L184.60 591.58 L186.60 589.82 L188.60 588.07 L190.60 586.35 L192.60 584.64 L194.60 582.94 L196.60 581.26 L198.60 579.60 L200.60 577.95 L202.60 576.32 L204.60 574.70 L206.60 573.10 L208.60 571.52 L210.60 569.95 L212.60 568.40 L214.60 566.87 L216.60 565.35 L218.60 563.84 L220.60 562.35 L222.60 560.88 L224.60 559.43 L226.60 557.99 L228.60 556.56 L230.60 555.15 L232.60 553.76 L234.60 552.38 L236.60 551.02 L238.60 549.68 L240.60 548.35 L242.60 547.04 L244.60 545.74 L246.60 544.46 L248.60 543.20 L250.60 541.95 L252.60 540.71 L254.60 539.50 L256.60 538.30 L258.60 537.11 L260.60 535.94 L262.60 534.79 L264.60 533.65 L266.60 532.53 L268.60 531.42 L270.60 530.34 L272.60 529.26 L274.60 528.20 L276.60 527.16 L278.60 526.14 L280.60 525.13 L282.60 524.13 L284.60 523.16 L286.60 522.19 L288.60 521.25 L290.60 520.32 L292.60 519.40 L294.60 518.51 L296.60 517.62 L298.60 516.76 L300.60 515.91 L302.60 515.07 L304.60 514.25 L306.60 513.45 L308.60 512.66 L310.60 511.89 L312.60 511.14 L314.60 510.40 L316.60 509.68 L318.60 508.97 L320.60 508.28 L322.60 507.61 L324.60 506.95 L326.60 506.30 L328.60 505.68 L330.60 505.06 L332.60 504.47 L334.60 503.89 L336.60 503.33 L338.60 502.78 L340.60 502.25 L342.60 501.73 L344.60 501.23 L346.60 500.75 L348.60 500.28 L350.60 499.83 L352.60 499.39 L354.60 498.97 L356.60 498.57 L358.60 498.18 L360.60 497.81 L362.60 497.45 L364.60 497.11 L366.60 496.79 L368.60 496.48 L370.60 496.19 L372.60 495.91 L374.60 495.65 L376.60 495.41 L378.60 495.18 L380.60 494.97 L382.60 494.77 L384.60 494.59 L386.60 494.42 L388.60 494.28 L390.60 494.14 L392.60 494.03 L394.60 493.92 L396.60 493.84 L398.60 493.77 L400.60 493.72 L402.60 493.68 L404.60 493.66 L406.60 493.65 L408.60 493.66 L410.60 493.69 L412.60 493.73 L414.60 493.79 L416.60 493.86 L418.60 493.96 L420.60 494.06 L422.60 494.18 L424.60 494.32 L426.60 494.48 L428.60 494.65 L430.60 494.83 L432.60 495.03 L434.60 495.25 L436.60 495.48 L438.60 495.73 L440.60 496.00 L442.60 496.28 L444.60 496.58 L446.60 496.89 L448.60 497.22 L450.60 497.57 L452.60 497.93 L454.60 498.31 L456.60 498.70 L458.60 499.11 L460.60 499.53 L462.60 499.97 L464.60 500.43 L466.60 500.90 L468.60 501.39 L470.60 501.90 L472.60 502.42 L474.60 502.95 L476.60 503.51 L478.60 504.08 L480.60 504.66 L482.60 505.26 L484.60 505.88 L486.60 506.51 L488.60 507.16 L490.60 507.82 L492.60 508.50 L494.60 509.20 L496.60 509.91 L498.60 510.64 L500.60 511.38 L502.60 512.14 L504.60 512.92 L506.60 513.71 L508.60 514.52 L510.60 515.34 L512.60 516.18 L514.60 517.03 L516.60 517.91 L518.60 518.79 L520.60 519.70 L522.60 520.62 L524.60 521.55 L526.60 522.50 L528.60 523.47 L530.60 524.45 L532.60 525.45 L534.60 526.47 L536.60 527.50 L538.60 528.54 L540.60 529.61 L542.60 530.68 L544.60 531.78 L546.60 532.89 L548.60 534.02 L550.60 535.16 L552.60 536.32 L554.60 537.49 L556.60 538.68 L558.60 539.89 L560.60 541.11 L562.60 542.35 L564.60 543.60 L566.60 544.87 L568.60 546.16 L570.60 547.46 L572.60 548.78 L574.60 550.11 L576.60 551.46 L578.60 552.83 L580.60 554.21 L582.60 555.60 L584.60 557.02 L586.60 558.45 L588.60 559.89 L590.60 561.35 L592.60 562.83 L594.60 564.32 L596.60 565.83 L598.60 567.36" fill="none" stroke="#3c68c8" stroke-width="2.6" stroke-linecap="round" stroke-dasharray="0 5.25"/>
<path d="M177.00 566.60 V585.00 M172.80 566.60 H181.20 M172.80 585.00 H181.20" stroke="#404040" stroke-width="1.6" fill="none"/>
<path d="M225.50 551.30 V572.70 M221.30 551.30 H229.70 M221.30 572.70 H229.70" stroke="#404040" stroke-width="1.6" fill="none"/>
<path d="M262.10 556.50 V576.70 M257.90 556.50 H266.30 M257.90 576.70 H266.30" stroke="#404040" stroke-width="1.6" fill="none"/>
<path d="M282.50 520.90 V547.50 M278.30 520.90 H286.70 M278.30 547.50 H286.70" stroke="#404040" stroke-width="1.6" fill="none"/>
<path d="M379.50 463.80 V501.80 M375.30 463.80 H383.70 M375.30 501.80 H383.70" stroke="#404040" stroke-width="1.6" fill="none"/>
<path d="M388.20 456.50 V494.50 M384.00 456.50 H392.40 M384.00 494.50 H392.40" stroke="#404040" stroke-width="1.6" fill="none"/>
<path d="M432.60 498.30 V530.30 M428.40 498.30 H436.80 M428.40 530.30 H436.80" stroke="#404040" stroke-width="1.6" fill="none"/>
<path d="M444.60 480.00 V513.60 M440.40 480.00 H448.80 M440.40 513.60 H448.80" stroke="#404040" stroke-width="1.6" fill="none"/>
<path d="M496.00 491.40 V524.40 M491.80 491.40 H500.20 M491.80 524.40 H500.20" stroke="#404040" stroke-width="1.6" fill="none"/>
<path d="M516.80 474.10 V509.10 M512.60 474.10 H521.00 M512.60 509.10 H521.00" stroke="#404040" stroke-width="1.6" fill="none"/>
<path d="M558.50 447.20 V487.80 M554.30 447.20 H562.70 M554.30 487.80 H562.70" stroke="#404040" stroke-width="1.6" fill="none"/>
<path d="M558.50 459.20 V497.60 M554.30 459.20 H562.70 M554.30 497.60 H562.70" stroke="#404040" stroke-width="1.6" fill="none"/>
<path d="M573.40 516.20 V544.60 M569.20 516.20 H577.60 M569.20 544.60 H577.60" stroke="#404040" stroke-width="1.6" fill="none"/>
<path d="M581.60 520.20 V547.80 M577.40 520.20 H585.80 M577.40 547.80 H585.80" stroke="#404040" stroke-width="1.6" fill="none"/>
<path d="M579.20 526.00 V553.60 M575.00 526.00 H583.40 M575.00 553.60 H583.40" stroke="#404040" stroke-width="1.6" fill="none"/>
<path d="M566.40 539.20 V561.60 M562.20 539.20 H570.60 M562.20 561.60 H570.60" stroke="#404040" stroke-width="1.6" fill="none"/>
<path d="M582.10 544.70 V566.30 M577.90 544.70 H586.30 M577.90 566.30 H586.30" stroke="#404040" stroke-width="1.6" fill="none"/>
<path d="M569.90 558.10 V577.90 M565.70 558.10 H574.10 M565.70 577.90 H574.10" stroke="#404040" stroke-width="1.6" fill="none"/>
<path d="M569.90 564.80 V582.80 M565.70 564.80 H574.10 M565.70 582.80 H574.10" stroke="#404040" stroke-width="1.6" fill="none"/>
<path d="M582.10 574.20 V591.20 M577.90 574.20 H586.30 M577.90 591.20 H586.30" stroke="#404040" stroke-width="1.6" fill="none"/>
<path d="M551.10 578.00 V593.00 M546.90 578.00 H555.30 M546.90 593.00 H555.30" stroke="#404040" stroke-width="1.6" fill="none"/>
<path d="M554.60 580.50 V597.50 M550.40 580.50 H558.80 M550.40 597.50 H558.80" stroke="#404040" stroke-width="1.6" fill="none"/>
<path d="M598.70 583.10 V598.30 M594.50 583.10 H602.90 M594.50 598.30 H602.90" stroke="#404040" stroke-width="1.6" fill="none"/>
<ellipse cx="177.00" cy="575.80" rx="5.4" ry="4.25" fill="#3a6ad0" stroke="#2d55a8" stroke-width="0.7"/>
<ellipse cx="225.50" cy="562.00" rx="5.4" ry="4.25" fill="#3a6ad0" stroke="#2d55a8" stroke-width="0.7"/>
<ellipse cx="262.10" cy="566.60" rx="5.4" ry="4.25" fill="#3a6ad0" stroke="#2d55a8" stroke-width="0.7"/>
<ellipse cx="282.50" cy="534.20" rx="5.4" ry="4.25" fill="#3a6ad0" stroke="#2d55a8" stroke-width="0.7"/>
<ellipse cx="379.50" cy="482.80" rx="5.4" ry="4.25" fill="#3a6ad0" stroke="#2d55a8" stroke-width="0.7"/>
<ellipse cx="388.20" cy="475.50" rx="5.4" ry="4.25" fill="#3a6ad0" stroke="#2d55a8" stroke-width="0.7"/>
<ellipse cx="432.60" cy="514.30" rx="5.4" ry="4.25" fill="#3a6ad0" stroke="#2d55a8" stroke-width="0.7"/>
<ellipse cx="444.60" cy="496.80" rx="5.4" ry="4.25" fill="#3a6ad0" stroke="#2d55a8" stroke-width="0.7"/>
<ellipse cx="496.00" cy="507.90" rx="5.4" ry="4.25" fill="#3a6ad0" stroke="#2d55a8" stroke-width="0.7"/>
<ellipse cx="516.80" cy="491.60" rx="5.4" ry="4.25" fill="#3a6ad0" stroke="#2d55a8" stroke-width="0.7"/>
<ellipse cx="558.50" cy="467.50" rx="5.4" ry="4.25" fill="#3a6ad0" stroke="#2d55a8" stroke-width="0.7"/>
<ellipse cx="558.50" cy="478.40" rx="5.4" ry="4.25" fill="#3a6ad0" stroke="#2d55a8" stroke-width="0.7"/>
<ellipse cx="573.40" cy="530.40" rx="5.4" ry="4.25" fill="#3a6ad0" stroke="#2d55a8" stroke-width="0.7"/>
<ellipse cx="581.60" cy="534.00" rx="5.4" ry="4.25" fill="#3a6ad0" stroke="#2d55a8" stroke-width="0.7"/>
<ellipse cx="579.20" cy="539.80" rx="5.4" ry="4.25" fill="#3a6ad0" stroke="#2d55a8" stroke-width="0.7"/>
<ellipse cx="566.40" cy="550.40" rx="5.4" ry="4.25" fill="#3a6ad0" stroke="#2d55a8" stroke-width="0.7"/>
<ellipse cx="582.10" cy="555.50" rx="5.4" ry="4.25" fill="#3a6ad0" stroke="#2d55a8" stroke-width="0.7"/>
<ellipse cx="569.90" cy="568.00" rx="5.4" ry="4.25" fill="#3a6ad0" stroke="#2d55a8" stroke-width="0.7"/>
<ellipse cx="569.90" cy="573.80" rx="5.4" ry="4.25" fill="#3a6ad0" stroke="#2d55a8" stroke-width="0.7"/>
<ellipse cx="582.10" cy="582.70" rx="5.4" ry="4.25" fill="#3a6ad0" stroke="#2d55a8" stroke-width="0.7"/>
<ellipse cx="551.10" cy="585.50" rx="5.4" ry="4.25" fill="#3a6ad0" stroke="#2d55a8" stroke-width="0.7"/>
<ellipse cx="554.60" cy="589.00" rx="5.4" ry="4.25" fill="#3a6ad0" stroke="#2d55a8" stroke-width="0.7"/>
<ellipse cx="598.70" cy="590.70" rx="5.4" ry="4.25" fill="#3a6ad0" stroke="#2d55a8" stroke-width="0.7"/>
<text x="406.80" y="616.50" font-size="12.5" text-anchor="middle" fill="#595959" textLength="226.00" lengthAdjust="spacingAndGlyphs">y = -0.0427x² + 167.3x - 163604</text>
<text x="405.40" y="633.80" font-size="12.5" text-anchor="middle" fill="#595959" textLength="81.30" lengthAdjust="spacingAndGlyphs">R² = 0.4182</text>
<text x="367.20" y="721.70" font-size="14.5" text-anchor="middle" fill="#000" font-weight="bold" textLength="99.00" lengthAdjust="spacingAndGlyphs">Year of birth</text>
<text x="0" y="0" font-size="15" text-anchor="middle" fill="#000" font-weight="bold" textLength="181.40" lengthAdjust="spacingAndGlyphs" transform="translate(26.70 551.10) scale(1.1 1) rotate(-90)">Mean annual growth (µm)</text>
</svg>
</body></html>
